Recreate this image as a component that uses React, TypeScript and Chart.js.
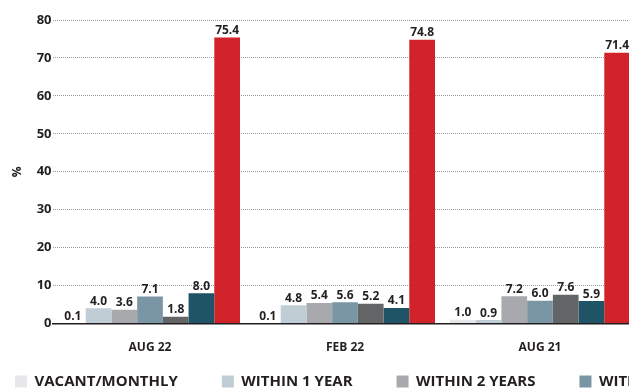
import React, { useEffect, useRef } from 'react';
import { Chart, registerables } from 'chart.js';

Chart.register(...registerables);

const categories = ['AUG 22', 'FEB 22', 'AUG 21'];
const seriesNames = [
  'VACANT/MONTHLY',
  'WITHIN 1 YEAR',
  'WITHIN 2 YEARS',
  'WITHIN 3 YEARS',
  'WITHIN 4 YEARS',
  'WITHIN 5 YEARS',
  'OVER 5 YEARS',
];
const seriesColors = ['#e6e7e8', '#c1cdd5', '#a7a9ac', '#7a96a4', '#636466', '#1f5366', '#d2232a'];
const vacantMonthly = [0.1, 0.1, 1.0];
const within1Year = [4.0, 4.8, 0.9];
const within2Years = [3.6, 5.4, 7.2];
const within3Years = [7.1, 5.6, 6.0];
const within4Years = [1.8, 5.2, 7.6];
const within5Years = [8.0, 4.1, 5.9];
const over5Years = [75.4, 74.8, 71.4];
const seriesValues = [vacantMonthly, within1Year, within2Years, within3Years, within4Years, within5Years, over5Years];
const yMin = 0;
const yMax = 80;
const yStep = 10;
const yTitle = '%';

const FONT = "'Open Sans', 'Noto Sans', sans-serif";
const TEXT = '#231f20';
const CANVAS_W = 1500;
const CANVAS_H = 399;
const LEFT_SHIFT = 29;

const valueLabels = {
  id: 'valueLabels',
  afterDatasetsDraw(chart: any) {
    const ctx = chart.ctx;
    ctx.save();
    ctx.font = `bold 12px ${FONT}`;
    ctx.fillStyle = TEXT;
    ctx.textAlign = 'center';
    ctx.textBaseline = 'bottom';
    chart.data.datasets.forEach((ds: any, di: number) => {
      const meta = chart.getDatasetMeta(di);
      meta.data.forEach((el: any, i: number) => {
        const v = ds.data[i];
        ctx.fillText(Number(v).toFixed(1), el.x, el.y - 1);
      });
    });
    ctx.restore();
  },
};

export default function App() {
  const ref = useRef<HTMLCanvasElement | null>(null);
  useEffect(() => {
    if (!ref.current) return;
    const chart = new Chart(ref.current, {
      type: 'bar',
      data: {
        labels: categories,
        datasets: seriesNames.map((name, i) => ({
          label: name,
          data: seriesValues[i],
          backgroundColor: seriesColors[i],
          borderWidth: 0,
          categoryPercentage: 180 / 195,
          barPercentage: 1,
        })),
      },
      options: {
        responsive: false,
        animation: false,
        layout: { padding: { top: 20, left: -LEFT_SHIFT, right: 0, bottom: 0 } },
        plugins: {
          legend: {
            position: 'bottom',
            align: 'start',
            labels: {
              boxWidth: 12,
              boxHeight: 12,
              padding: 44,
              color: TEXT,
              font: { family: FONT, size: 15, weight: 'bold' },
            },
          },
          tooltip: { enabled: false },
        },
        scales: {
          x: {
            grid: { display: false, drawTicks: false },
            border: { display: true, color: TEXT, width: 1.5 },
            ticks: {
              color: TEXT,
              mirror: true,
              padding: -31.2,
              font: { family: FONT, size: 12, weight: 'bold' },
            },
            afterFit: (s: any) => {
              s.height = 6.5;
            },
          },
          y: {
            min: yMin,
            max: yMax,
            ticks: {
              stepSize: yStep,
              color: TEXT,
              padding: 1,
              font: { family: FONT, size: 13, weight: 'bold' },
            },
            grid: { color: '#9a9a9a', lineWidth: 1, drawTicks: false },
            border: { display: false, dash: [1, 1] },
            title: {
              display: true,
              text: yTitle,
              color: TEXT,
              padding: { top: 10 + LEFT_SHIFT, bottom: 0 },
              font: { family: FONT, size: 12, weight: 'bold' },
            },
            afterFit: (s: any) => {
              s.width = 52.5 + LEFT_SHIFT;
            },
          },
          spacer: {
            type: 'linear',
            position: 'right',
            display: true,
            grid: { display: false },
            border: { display: false },
            ticks: { display: false },
            afterFit: (s: any) => {
              s.width = CANVAS_W - 637.5;
            },
          },
        },
      } as any,
      plugins: [valueLabels],
    });
    return () => chart.destroy();
  }, []);

  return (
    <div
      style={{
        position: 'fixed',
        left: 0,
        top: 0,
        width: 629,
        height: 390,
        overflow: 'hidden',
        background: '#fff',
      }}
    >
      <canvas ref={ref} width={CANVAS_W} height={CANVAS_H} style={{ width: CANVAS_W, height: CANVAS_H, display: 'block' }} />
    </div>
  );
}
